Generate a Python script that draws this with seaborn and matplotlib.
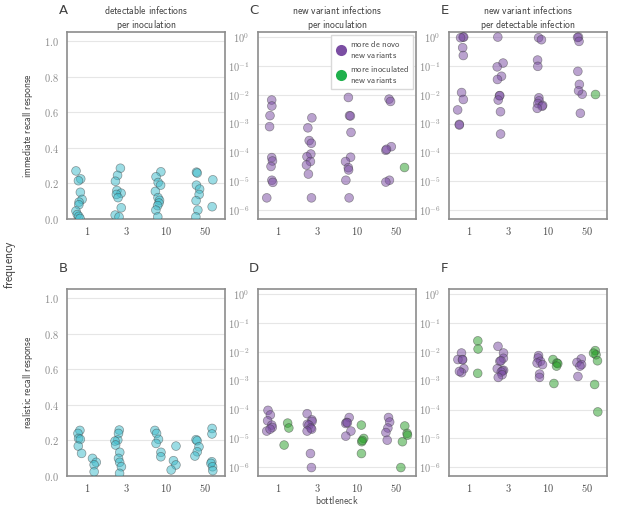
import numpy as np
import pandas as pd
import matplotlib
matplotlib.use("Agg")
import matplotlib.pyplot as plt
import seaborn as sns
from matplotlib.lines import Line2D
from matplotlib.ticker import FixedLocator, FuncFormatter, NullLocator

# ---------------- data ----------------
bottlenecks = ["1", "3", "10", "50"]
groups = ["de novo", "inoculated"]

# panel A: detectable infections per inoculation, immediate recall
A_left = [
    [0.27, 0.225, 0.215, 0.15, 0.11, 0.095, 0.08, 0.045, 0.025, 0.015, 0.003],
    [0.285, 0.245, 0.212, 0.16, 0.145, 0.138, 0.12, 0.063, 0.022, 0.012],
    [0.265, 0.237, 0.205, 0.19, 0.155, 0.12, 0.105, 0.09, 0.075, 0.05, 0.012],
    [0.263, 0.258, 0.19, 0.168, 0.138, 0.103, 0.05, 0.012],
]
A_right = [[], [], [], [0.22, 0.069]]

# panel B: detectable infections per inoculation, realistic recall
B_left = [
    [0.256, 0.239, 0.211, 0.206, 0.168, 0.127],
    [0.258, 0.239, 0.202, 0.196, 0.174, 0.133, 0.099, 0.077, 0.052, 0.015],
    [0.256, 0.239, 0.206, 0.183, 0.133, 0.108],
    [0.204, 0.198, 0.164, 0.136, 0.112],
]
B_right = [
    [0.099, 0.077, 0.063, 0.024],
    [],
    [0.168, 0.086, 0.062, 0.034],
    [0.267, 0.236, 0.080, 0.071, 0.052, 0.030],
]

# panel C: new variant infections per inoculation, immediate recall
C_left = [
    [6.6e-3, 4.1e-3, 1.9e-3, 7.9e-4, 6.7e-5, 5.1e-5, 3.3e-5, 1.1e-5, 9.3e-6, 2.7e-6],
    [1.6e-3, 7.2e-4, 2.6e-4, 2.1e-4, 8.9e-5, 7.2e-5, 4.9e-5, 3.7e-5, 1.8e-5, 2.7e-6],
    [8.1e-3, 1.9e-3, 1.85e-3, 5.0e-4, 6.9e-5, 4.9e-5, 3.0e-5, 2.5e-5, 1.1e-5, 2.7e-6],
    [7.1e-3, 5.9e-3, 1.6e-4, 1.2e-4, 1.3e-4, 1.1e-5, 9.5e-6],
]
C_right = [[], [], [], [3.1e-5]]

# panel D: new variant infections per inoculation, realistic recall
D_left = [
    [9.4e-5, 6.5e-5, 4.1e-5, 2.9e-5, 2.4e-5, 1.8e-5, 2.1e-5],
    [7.2e-5, 4.4e-5, 3.9e-5, 3.1e-5, 2.9e-5, 2.3e-5, 2.1e-5, 1.8e-5, 3.0e-6, 9.8e-7],
    [5.3e-5, 3.6e-5, 3.3e-5, 3.5e-5, 1.8e-5, 1.2e-5],
    [5.3e-5, 3.7e-5, 2.3e-5, 1.6e-5, 8.7e-6],
]
D_right = [
    [3.4e-5, 2.3e-5, 5.9e-6],
    [],
    [2.9e-5, 1.0e-5, 7.7e-6, 8.5e-6, 3.0e-6],
    [2.7e-5, 1.5e-5, 1.3e-5, 7.7e-6, 9.8e-7],
]

# panel E: new variant infections per detectable infection, immediate recall
E_left = [
    [1.0, 1.0, 0.95, 0.43, 0.23, 0.012, 0.0069, 0.003, 0.00095, 0.0009],
    [1.0, 0.126, 0.093, 0.044, 0.034, 9.3e-3, 9.4e-3, 6.6e-3, 2.6e-3, 4.4e-4],
    [0.95, 0.81, 0.16, 0.097, 7.9e-3, 6.2e-3, 5.0e-3, 4.3e-3, 4.0e-3, 3.4e-3],
    [1.0, 0.97, 0.71, 0.065, 0.023, 0.0105, 0.0138, 2.3e-3],
]
E_right = [[], [], [], [0.0105]]

# panel F: new variant infections per detectable infection, realistic recall
F_left = [
    [9.1e-3, 5.4e-3, 5.4e-3, 5.3e-3, 2.6e-3, 1.9e-3, 2.1e-3],
    [1.55e-2, 9.1e-3, 6.0e-3, 4.7e-3, 4.9e-3, 2.6e-3, 2.3e-3, 2.2e-3, 2.0e-3, 1.6e-3, 1.3e-3],
    [7.4e-3, 6.1e-3, 4.7e-3, 4.1e-3, 3.6e-3, 1.7e-3, 1.3e-3],
    [5.7e-3, 4.3e-3, 3.6e-3, 3.2e-3, 1.4e-3],
]
F_right = [
    [2.4e-2, 1.25e-2, 1.8e-3],
    [],
    [5.4e-3, 4.1e-3, 3.9e-3, 3.2e-3, 8.0e-4],
    [1.1e-2, 7.9e-3, 9.0e-3, 4.9e-3, 7.4e-4, 8.3e-5],
]

col_titles = ["detectable infections\nper inoculation",
              "new variant infections\nper inoculation",
              "new variant infections\nper detectable infection"]
row_labels = ["immediate recall response", "realistic recall response"]
legend_labels = ["more de novo\nnew variants", "more inoculated\nnew variants"]

# ---------------- style ----------------
sns.set_theme(style="whitegrid")
plt.rcParams["font.family"] = ["DejaVu Sans"]
plt.rcParams["mathtext.fontset"] = "cm"

CYAN = "#3fbccc"
PURPLE = "#7b4ea3"
GREEN = "#2ca02c"
LEG_GREEN = "#1fb04c"


def sf(s):
    """Computer-Modern sans text through mathtext, line by line."""
    return "\n".join(r"$\mathsf{" + ln.replace(" ", r"\ ") + "}$" for ln in s.split("\n"))


def frame(left, right):
    rows = []
    for b, l, r in zip(bottlenecks, left, right):
        rows += [(b, groups[0], v) for v in l]
        rows += [(b, groups[1], v) for v in r]
    return pd.DataFrame(rows, columns=["bottleneck", "group", "value"])


W, H = 617, 505
fig = plt.figure(figsize=(W / 100, H / 100), dpi=100)

lefts = [67, 258, 449]
tops = [32, 289]
aw, ah = 158, 187

panels = [
    ("A", 0, 0, A_left, A_right, False),
    ("B", 1, 0, B_left, B_right, False),
    ("C", 0, 1, C_left, C_right, True),
    ("D", 1, 1, D_left, D_right, True),
    ("E", 0, 2, E_left, E_right, True),
    ("F", 1, 2, F_left, F_right, True),
]

np.random.seed(7)
axes = {}
for letter, r, c, left, right, logy in panels:
    x0, y0 = lefts[c], tops[r]
    ax = fig.add_axes([x0 / W, 1 - (y0 + ah) / H, aw / W, ah / H])
    axes[letter] = ax
    df = frame(left, right)
    pal = [CYAN, CYAN] if not logy else [PURPLE, GREEN]
    sns.stripplot(data=df, x="bottleneck", y="value", hue="group",
                  order=bottlenecks, hue_order=groups, dodge=True,
                  jitter=0.17, palette=pal, size=6.3, alpha=0.52,
                  linewidth=0.5, edgecolor="0.25", legend=False, ax=ax)
    ax.set_xlim(-0.5, 3.5)
    if logy:
        ax.set_yscale("log")
        ax.set_ylim(5e-7, 1.5)
        ax.yaxis.set_major_locator(FixedLocator([10.0 ** k for k in range(-6, 1)]))
        ax.yaxis.set_major_formatter(FuncFormatter(
            lambda v, p: r"$10^{%d}$" % int(round(np.log10(v)))))
        ax.yaxis.set_minor_locator(NullLocator())
    else:
        ax.set_ylim(0, 1.05)
        ax.yaxis.set_major_locator(FixedLocator([0, 0.2, 0.4, 0.6, 0.8, 1.0]))
        ax.yaxis.set_major_formatter(FuncFormatter(lambda v, p: r"$%.1f$" % v))
        ax.set_ylabel(sf(row_labels[r]), fontsize=7, color="0.25", labelpad=6)
    ax.set_xticks(range(len(bottlenecks)))
    ax.set_xticklabels([sf(b) for b in bottlenecks])
    ax.tick_params(axis="y", labelsize=7.5, labelcolor="0.55", pad=6, length=0)
    ax.tick_params(axis="x", labelsize=7.5, labelcolor="0.3", pad=4, length=0)
    ax.grid(axis="y", color="0.9", linewidth=0.8)
    ax.grid(axis="x", visible=False)
    for s in ax.spines.values():
        s.set_color("0.55")
        s.set_linewidth(1.2)
    if letter == "D":
        ax.set_xlabel(sf("bottleneck"), fontsize=7, color="0.3", labelpad=0)
    else:
        ax.set_xlabel("")
    if letter not in ("A", "B"):
        ax.set_ylabel("")
    if r == 0:
        ax.set_title(sf(col_titles[c]), fontsize=7, color="0.25", pad=3)
    fig.text((x0 - 4) / W, 1 - (y0 - 21) / H, letter, fontsize=9.5,
             color="0.25", ha="center", va="center")

handles = [
    Line2D([], [], marker="o", ls="", markersize=8, markerfacecolor=PURPLE,
           markeredgecolor="none", label=sf(legend_labels[0])),
    Line2D([], [], marker="o", ls="", markersize=8, markerfacecolor=LEG_GREEN,
           markeredgecolor="none", label=sf(legend_labels[1])),
]
leg = axes["C"].legend(handles=handles, loc="upper right", fontsize=6.3,
                       frameon=True, borderaxespad=0.3, handletextpad=0.5,
                       labelspacing=0.4, borderpad=0.45, framealpha=1,
                       edgecolor="0.85", fancybox=False, handlelength=1.2)
for t in leg.get_texts():
    t.set_color("0.3")

fig.text(10 / W, 1 - 265 / H, sf("frequency"), rotation=90, fontsize=8.5,
         color="0.25", ha="center", va="center")

fig.savefig("out.png", dpi=100)
